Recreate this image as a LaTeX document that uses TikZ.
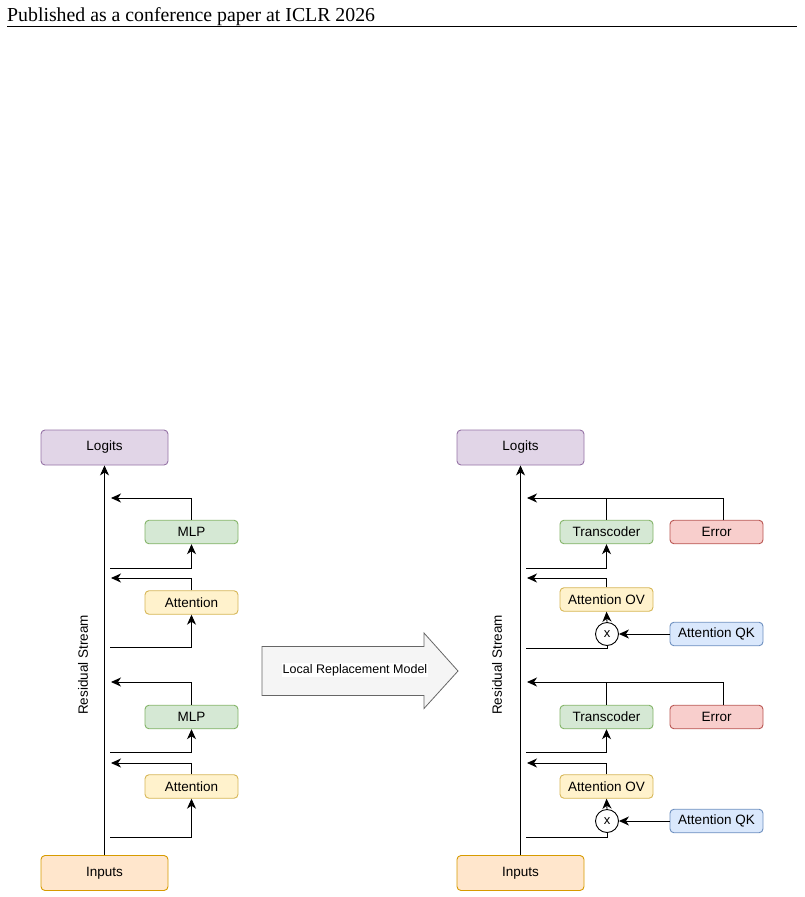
\documentclass[tikz,border=0pt]{standalone}
\usepackage{fontspec}
\setmainfont{Liberation Sans}
\newfontfamily\hdrfont{Liberation Serif}
\usetikzlibrary{arrows.meta}
\definecolor{purF}{HTML}{E1D5E7}\definecolor{purD}{HTML}{9673A6}
\definecolor{grnF}{HTML}{D5E8D4}\definecolor{grnD}{HTML}{82B366}
\definecolor{yelF}{HTML}{FFF2CC}\definecolor{yelD}{HTML}{D6B656}
\definecolor{orgF}{HTML}{FFE6CC}\definecolor{orgD}{HTML}{D79B00}
\definecolor{redF}{HTML}{F8CECC}\definecolor{redD}{HTML}{B85450}
\definecolor{bluF}{HTML}{DAE8FC}\definecolor{bluD}{HTML}{6C8EBF}
\definecolor{grayF}{HTML}{F5F5F5}\definecolor{grayD}{HTML}{666666}
\tikzset{
  box/.style={draw, rounded corners=4pt, line width=0.9pt, inner sep=0pt,
    font=\fontsize{13.5}{16}\selectfont, text=black},
  bigbox/.style={box, minimum width=127pt, minimum height=35pt},
  smallbox/.style={box, minimum width=93pt, minimum height=23.5pt},
  logitsbox/.style={bigbox, fill=purF, draw=purD},
  inputsbox/.style={bigbox, fill=orgF, draw=orgD},
  mlpbox/.style={smallbox, fill=grnF, draw=grnD},
  attbox/.style={smallbox, fill=yelF, draw=yelD},
  errbox/.style={smallbox, fill=redF, draw=redD},
  qkbox/.style={smallbox, fill=bluF, draw=bluD},
  mulnode/.style={circle, draw, fill=white, line width=0.9pt, minimum size=23pt, inner sep=0pt,
    font=\fontsize{13}{15}\selectfont},
  wire/.style={line width=0.9pt, draw=black},
  arr/.style={wire, -{Stealth[length=10pt,width=9pt,inset=3pt]}},
}
\begin{document}
\begin{tikzpicture}[x=1pt,y=-1pt]
\useasboundingbox (0,0) rectangle (804,897);
% header
\node[anchor=base west, inner sep=0pt, font=\hdrfont\fontsize{19.8}{22}\selectfont] (hdr) at (7,21) {Published as a conference paper at ICLR 2026};
\draw[line width=0.8pt] (7,26.5) -- (797,26.5);

% ================= LEFT =================
\node[logitsbox] (Llog) at (104.5,447.5) {Logits};
\node[inputsbox] (Lin) at (104.5,873) {Inputs};
\draw[arr] (Lin.north) -- (Llog.south);
\node[rotate=90, font=\fontsize{13.5}{16}\selectfont] (Lrs) at (83,665) {Residual Stream};

\node[mlpbox] (Lmlp1) at (191.5,532) {MLP};
\node[attbox] (Latt1) at (191.5,602.5) {Attention};
\node[mlpbox] (Lmlp2) at (191.5,717) {MLP};
\node[attbox] (Latt2) at (191.5,786.5) {Attention};

\coordinate (Lo1) at (111,498);
\coordinate (Lt1) at (110,568);
\coordinate (Lo2) at (111,578);
\coordinate (Lt2) at (110,647);
\coordinate (Lo3) at (111,682);
\coordinate (Lt3) at (110,752);
\coordinate (Lo4) at (111,763);
\coordinate (Lt4) at (110,837);

\draw[arr] (Lmlp1.north) |- (Lo1);
\draw[arr] (Lt1) -| (Lmlp1.south);
\draw[arr] (Latt1.north) |- (Lo2);
\draw[arr] (Lt2) -| (Latt1.south);
\draw[arr] (Lmlp2.north) |- (Lo3);
\draw[arr] (Lt3) -| (Lmlp2.south);
\draw[arr] (Latt2.north) |- (Lo4);
\draw[arr] (Lt4) -| (Latt2.south);

% ================= BIG ARROW =================
\draw[fill=grayF, draw=grayD, line width=0.8pt]
  (262,646.5) -- (424,646.5) -- (424,633) -- (458,671) -- (424,708.5) -- (424,695.5) -- (262,695.5) -- cycle;
\node[fill=white, inner sep=1pt, font=\fontsize{12.5}{15}\selectfont] (lrm) at (355,670) {Local Replacement Model};

% ================= RIGHT =================
\node[logitsbox] (Rlog) at (520.5,447.5) {Logits};
\node[inputsbox] (Rin) at (520.5,873) {Inputs};
\draw[arr] (Rin.north) -- (Rlog.south);
\node[rotate=90, font=\fontsize{13.5}{16}\selectfont] (Rrs) at (497,665) {Residual Stream};

\node[mlpbox] (Rtr1) at (606.5,532) {Transcoder};
\node[errbox] (Rerr1) at (716.5,532) {Error};
\node[attbox] (Rov1) at (606.5,599.5) {Attention OV};
\node[mulnode] (Rx1) at (607,634) {x};
\node[qkbox] (Rqk1) at (716.5,634) {Attention QK};

\node[mlpbox] (Rtr2) at (606.5,717) {Transcoder};
\node[errbox] (Rerr2) at (716.5,717) {Error};
\node[attbox] (Rov2) at (606.5,786.5) {Attention OV};
\node[mulnode] (Rx2) at (607,821) {x};
\node[qkbox] (Rqk2) at (716.5,821) {Attention QK};

\coordinate (Ro1) at (527,498);
\coordinate (Rj1) at (606.5,498);
\coordinate (Re1) at (723,520.25);
\coordinate (Rt1) at (526,568);
\coordinate (Ro2) at (527,578);
\coordinate (Rt2) at (526,648);
\coordinate (Ro3) at (527,682);
\coordinate (Rj3) at (606.5,682);
\coordinate (Re3) at (723,705.25);
\coordinate (Rt3) at (526,752);
\coordinate (Ro4) at (527,763);
\coordinate (Rt4) at (526,837);

\draw[arr] (Rtr1.north) |- (Ro1);
\draw[wire] (Re1) |- (Rj1);
\draw[arr] (Rt1) -| (Rtr1.south);
\draw[arr] (Rov1.north) |- (Ro2);
\draw[arr] (Rx1.north) -- (Rov1.south);
\draw[arr] (Rqk1.west) -- (Rx1.east);
\draw[wire] (Rt2) -| (Rx1.south);

\draw[arr] (Rtr2.north) |- (Ro3);
\draw[wire] (Re3) |- (Rj3);
\draw[arr] (Rt3) -| (Rtr2.south);
\draw[arr] (Rov2.north) |- (Ro4);
\draw[arr] (Rx2.north) -- (Rov2.south);
\draw[arr] (Rqk2.west) -- (Rx2.east);
\draw[wire] (Rt4) -| (Rx2.south);
\end{tikzpicture}
\end{document}
